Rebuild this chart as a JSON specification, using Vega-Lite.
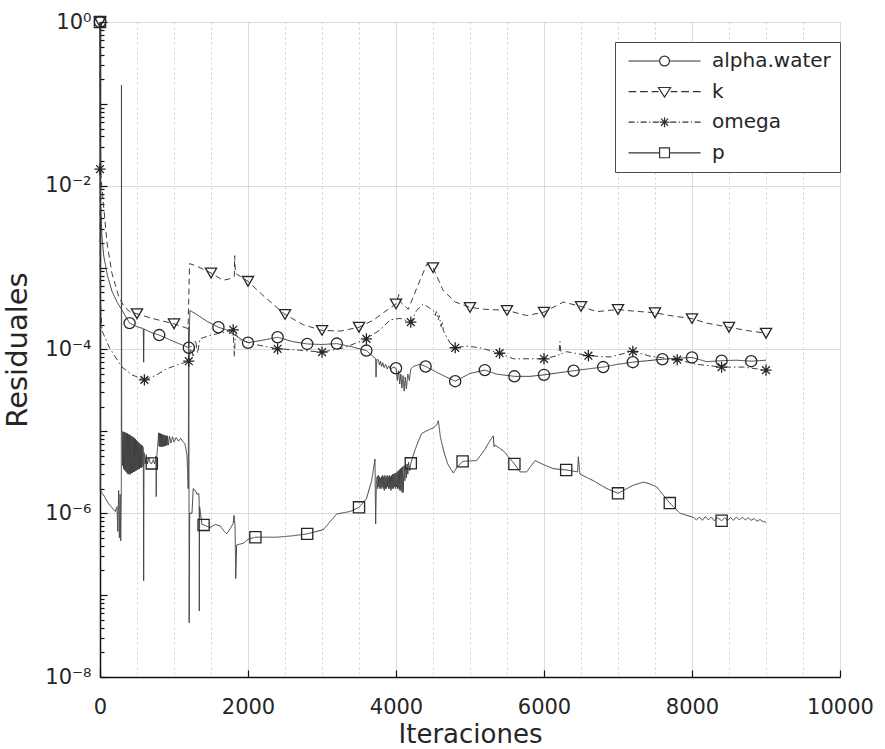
{
  "$schema": "https://vega.github.io/schema/vega-lite/v6.json",
  "width": 740,
  "height": 655,
  "autosize": {"type": "none"},
  "padding": {"left": 100, "top": 22, "right": 45, "bottom": 72},
  "background": "white",
  "config": {"view": {"stroke": null}, "font": "DejaVu Sans"},
  "datasets": {
    "lines": [
      {"series": "alpha.water", "it": 0, "value": 1},
      {"series": "alpha.water", "it": 2, "value": 0.03},
      {"series": "alpha.water", "it": 8, "value": 0.006},
      {"series": "alpha.water", "it": 25, "value": 0.0025},
      {"series": "alpha.water", "it": 50, "value": 0.0014},
      {"series": "alpha.water", "it": 100, "value": 0.0008},
      {"series": "alpha.water", "it": 160, "value": 0.00052},
      {"series": "alpha.water", "it": 230, "value": 0.00038},
      {"series": "alpha.water", "it": 290, "value": 0.00031},
      {"series": "alpha.water", "it": 400, "value": 0.00021},
      {"series": "alpha.water", "it": 500, "value": 0.00019},
      {"series": "alpha.water", "it": 585, "value": 0.00018},
      {"series": "alpha.water", "it": 590, "value": 0.00007},
      {"series": "alpha.water", "it": 595, "value": 0.000178},
      {"series": "alpha.water", "it": 700, "value": 0.00016},
      {"series": "alpha.water", "it": 800, "value": 0.00015},
      {"series": "alpha.water", "it": 1000, "value": 0.000125},
      {"series": "alpha.water", "it": 1200, "value": 0.000105},
      {"series": "alpha.water", "it": 1215, "value": 0.0003},
      {"series": "alpha.water", "it": 1300, "value": 0.00027},
      {"series": "alpha.water", "it": 1450, "value": 0.00022},
      {"series": "alpha.water", "it": 1600, "value": 0.000187},
      {"series": "alpha.water", "it": 1700, "value": 0.000175},
      {"series": "alpha.water", "it": 1800, "value": 0.000155},
      {"series": "alpha.water", "it": 1900, "value": 0.000135},
      {"series": "alpha.water", "it": 2000, "value": 0.000121},
      {"series": "alpha.water", "it": 2200, "value": 0.00013},
      {"series": "alpha.water", "it": 2400, "value": 0.000141},
      {"series": "alpha.water", "it": 2600, "value": 0.000125},
      {"series": "alpha.water", "it": 2800, "value": 0.000117},
      {"series": "alpha.water", "it": 3000, "value": 0.000115},
      {"series": "alpha.water", "it": 3200, "value": 0.000118},
      {"series": "alpha.water", "it": 3400, "value": 0.000108},
      {"series": "alpha.water", "it": 3600, "value": 0.000097},
      {"series": "alpha.water", "it": 3725, "value": 0.000077},
      {"series": "alpha.water", "it": 3730, "value": 0.000046},
      {"series": "alpha.water", "it": 3740, "value": 0.000075},
      {"series": "alpha.water", "it": 3760, "value": 0.000075},
      {"series": "alpha.water", "it": 3775, "value": 0.000065},
      {"series": "alpha.water", "it": 3790, "value": 0.000072},
      {"series": "alpha.water", "it": 3805, "value": 0.000062},
      {"series": "alpha.water", "it": 3820, "value": 0.000069},
      {"series": "alpha.water", "it": 3840, "value": 0.00006},
      {"series": "alpha.water", "it": 3860, "value": 0.000066},
      {"series": "alpha.water", "it": 3880, "value": 0.000058},
      {"series": "alpha.water", "it": 3900, "value": 0.000063},
      {"series": "alpha.water", "it": 3930, "value": 0.000057},
      {"series": "alpha.water", "it": 3960, "value": 0.000061},
      {"series": "alpha.water", "it": 4000, "value": 0.000059},
      {"series": "alpha.water", "it": 4020, "value": 0.000042},
      {"series": "alpha.water", "it": 4035, "value": 0.000055},
      {"series": "alpha.water", "it": 4050, "value": 0.000038},
      {"series": "alpha.water", "it": 4065, "value": 0.00005},
      {"series": "alpha.water", "it": 4080, "value": 0.000034},
      {"series": "alpha.water", "it": 4095, "value": 0.000048},
      {"series": "alpha.water", "it": 4110, "value": 0.000031},
      {"series": "alpha.water", "it": 4125, "value": 0.000046},
      {"series": "alpha.water", "it": 4140, "value": 0.000033},
      {"series": "alpha.water", "it": 4160, "value": 0.00005},
      {"series": "alpha.water", "it": 4180, "value": 0.000042},
      {"series": "alpha.water", "it": 4200, "value": 0.000058},
      {"series": "alpha.water", "it": 4234, "value": 0.000062},
      {"series": "alpha.water", "it": 4324, "value": 0.000066},
      {"series": "alpha.water", "it": 4400, "value": 0.000062},
      {"series": "alpha.water", "it": 4600, "value": 0.00005},
      {"series": "alpha.water", "it": 4800, "value": 0.000041},
      {"series": "alpha.water", "it": 5000, "value": 0.000051},
      {"series": "alpha.water", "it": 5200, "value": 0.000056},
      {"series": "alpha.water", "it": 5360, "value": 0.00005},
      {"series": "alpha.water", "it": 5600, "value": 0.000047},
      {"series": "alpha.water", "it": 5811, "value": 0.000047},
      {"series": "alpha.water", "it": 6000, "value": 0.000049},
      {"series": "alpha.water", "it": 6200, "value": 0.000052},
      {"series": "alpha.water", "it": 6400, "value": 0.000055},
      {"series": "alpha.water", "it": 6600, "value": 0.000058},
      {"series": "alpha.water", "it": 6800, "value": 0.000061},
      {"series": "alpha.water", "it": 7000, "value": 0.000066},
      {"series": "alpha.water", "it": 7200, "value": 0.00007},
      {"series": "alpha.water", "it": 7400, "value": 0.000073},
      {"series": "alpha.water", "it": 7600, "value": 0.000076},
      {"series": "alpha.water", "it": 7800, "value": 0.000078},
      {"series": "alpha.water", "it": 8000, "value": 0.00008},
      {"series": "alpha.water", "it": 8198, "value": 0.000071},
      {"series": "alpha.water", "it": 8400, "value": 0.000073},
      {"series": "alpha.water", "it": 8600, "value": 0.000074},
      {"series": "alpha.water", "it": 8800, "value": 0.000072},
      {"series": "alpha.water", "it": 9000, "value": 0.000074},

      {"series": "k", "it": 0, "value": 1},
      {"series": "k", "it": 3, "value": 0.05},
      {"series": "k", "it": 15, "value": 0.012},
      {"series": "k", "it": 50, "value": 0.0055},
      {"series": "k", "it": 95, "value": 0.002},
      {"series": "k", "it": 162, "value": 0.00085},
      {"series": "k", "it": 250, "value": 0.00045},
      {"series": "k", "it": 320, "value": 0.00034},
      {"series": "k", "it": 400, "value": 0.00029},
      {"series": "k", "it": 500, "value": 0.000273},
      {"series": "k", "it": 700, "value": 0.00024},
      {"series": "k", "it": 1000, "value": 0.000206},
      {"series": "k", "it": 1190, "value": 0.00018},
      {"series": "k", "it": 1210, "value": 0.00112},
      {"series": "k", "it": 1300, "value": 0.00105},
      {"series": "k", "it": 1500, "value": 0.00086},
      {"series": "k", "it": 1662, "value": 0.0007},
      {"series": "k", "it": 1750, "value": 0.00073},
      {"series": "k", "it": 1815, "value": 0.00078},
      {"series": "k", "it": 1820, "value": 0.0014},
      {"series": "k", "it": 1830, "value": 0.00085},
      {"series": "k", "it": 1900, "value": 0.00078},
      {"series": "k", "it": 2000, "value": 0.00068},
      {"series": "k", "it": 2200, "value": 0.00046},
      {"series": "k", "it": 2500, "value": 0.000268},
      {"series": "k", "it": 2750, "value": 0.0002},
      {"series": "k", "it": 3000, "value": 0.000171},
      {"series": "k", "it": 3250, "value": 0.000168},
      {"series": "k", "it": 3500, "value": 0.000187},
      {"series": "k", "it": 3700, "value": 0.00023},
      {"series": "k", "it": 3850, "value": 0.00029},
      {"series": "k", "it": 4000, "value": 0.00036},
      {"series": "k", "it": 4040, "value": 0.00047},
      {"series": "k", "it": 4060, "value": 0.00038},
      {"series": "k", "it": 4166, "value": 0.00031},
      {"series": "k", "it": 4300, "value": 0.00062},
      {"series": "k", "it": 4415, "value": 0.0011},
      {"series": "k", "it": 4500, "value": 0.001},
      {"series": "k", "it": 4635, "value": 0.00053},
      {"series": "k", "it": 4800, "value": 0.00038},
      {"series": "k", "it": 5000, "value": 0.000327},
      {"series": "k", "it": 5200, "value": 0.00031},
      {"series": "k", "it": 5500, "value": 0.0003},
      {"series": "k", "it": 5766, "value": 0.00026},
      {"series": "k", "it": 6000, "value": 0.000286},
      {"series": "k", "it": 6261, "value": 0.00038},
      {"series": "k", "it": 6500, "value": 0.000336},
      {"series": "k", "it": 6711, "value": 0.00029},
      {"series": "k", "it": 7000, "value": 0.000308},
      {"series": "k", "it": 7200, "value": 0.000295},
      {"series": "k", "it": 7500, "value": 0.000281},
      {"series": "k", "it": 7700, "value": 0.00026},
      {"series": "k", "it": 8000, "value": 0.000238},
      {"series": "k", "it": 8200, "value": 0.00021},
      {"series": "k", "it": 8500, "value": 0.000187},
      {"series": "k", "it": 8750, "value": 0.00017},
      {"series": "k", "it": 9000, "value": 0.000158},

      {"series": "omega", "it": 0, "value": 0.016},
      {"series": "omega", "it": 2, "value": 0.002},
      {"series": "omega", "it": 6, "value": 0.0004},
      {"series": "omega", "it": 27, "value": 0.00017},
      {"series": "omega", "it": 117, "value": 0.00011},
      {"series": "omega", "it": 207, "value": 0.000081},
      {"series": "omega", "it": 297, "value": 0.000061},
      {"series": "omega", "it": 432, "value": 0.000049},
      {"series": "omega", "it": 600, "value": 0.0000426},
      {"series": "omega", "it": 750, "value": 0.000048},
      {"series": "omega", "it": 900, "value": 0.000058},
      {"series": "omega", "it": 1050, "value": 0.000065},
      {"series": "omega", "it": 1200, "value": 0.000072},
      {"series": "omega", "it": 1230, "value": 0.00011},
      {"series": "omega", "it": 1260, "value": 0.00008},
      {"series": "omega", "it": 1290, "value": 0.00013},
      {"series": "omega", "it": 1320, "value": 0.00009},
      {"series": "omega", "it": 1350, "value": 0.000135},
      {"series": "omega", "it": 1500, "value": 0.00015},
      {"series": "omega", "it": 1650, "value": 0.00016},
      {"series": "omega", "it": 1800, "value": 0.000174},
      {"series": "omega", "it": 1815, "value": 0.000082},
      {"series": "omega", "it": 1830, "value": 0.000155},
      {"series": "omega", "it": 1900, "value": 0.00013},
      {"series": "omega", "it": 2100, "value": 0.000115},
      {"series": "omega", "it": 2400, "value": 0.000102},
      {"series": "omega", "it": 2700, "value": 0.000098},
      {"series": "omega", "it": 3000, "value": 0.000093},
      {"series": "omega", "it": 3300, "value": 0.000105},
      {"series": "omega", "it": 3600, "value": 0.000135},
      {"series": "omega", "it": 3784, "value": 0.000173},
      {"series": "omega", "it": 3919, "value": 0.00023},
      {"series": "omega", "it": 4054, "value": 0.00024},
      {"series": "omega", "it": 4200, "value": 0.000216},
      {"series": "omega", "it": 4279, "value": 0.0003},
      {"series": "omega", "it": 4369, "value": 0.00036},
      {"series": "omega", "it": 4504, "value": 0.0003},
      {"series": "omega", "it": 4530, "value": 0.00026},
      {"series": "omega", "it": 4545, "value": 0.00029},
      {"series": "omega", "it": 4570, "value": 0.00023},
      {"series": "omega", "it": 4585, "value": 0.00026},
      {"series": "omega", "it": 4610, "value": 0.00019},
      {"series": "omega", "it": 4625, "value": 0.00022},
      {"series": "omega", "it": 4640, "value": 0.00017},
      {"series": "omega", "it": 4730, "value": 0.00012},
      {"series": "omega", "it": 4800, "value": 0.000105},
      {"series": "omega", "it": 4955, "value": 0.00011},
      {"series": "omega", "it": 5135, "value": 0.000105},
      {"series": "omega", "it": 5400, "value": 0.00009},
      {"series": "omega", "it": 5585, "value": 0.000077},
      {"series": "omega", "it": 6000, "value": 0.000077},
      {"series": "omega", "it": 6200, "value": 0.000085},
      {"series": "omega", "it": 6216, "value": 0.000125},
      {"series": "omega", "it": 6230, "value": 0.000088},
      {"series": "omega", "it": 6306, "value": 0.000094},
      {"series": "omega", "it": 6600, "value": 0.000084},
      {"series": "omega", "it": 6892, "value": 0.000081},
      {"series": "omega", "it": 7200, "value": 0.000095},
      {"series": "omega", "it": 7432, "value": 0.000083},
      {"series": "omega", "it": 7800, "value": 0.000075},
      {"series": "omega", "it": 8063, "value": 0.000066},
      {"series": "omega", "it": 8400, "value": 0.000061},
      {"series": "omega", "it": 8694, "value": 0.000061},
      {"series": "omega", "it": 9000, "value": 0.000056},

      {"series": "p", "it": 0, "value": 1},
      {"series": "p", "it": 4, "value": 0.0000019},
      {"series": "p", "it": 60, "value": 0.0000016},
      {"series": "p", "it": 117, "value": 0.0000013},
      {"series": "p", "it": 207, "value": 0.00000105},
      {"series": "p", "it": 230, "value": 0.0000012},
      {"series": "p", "it": 240, "value": 0.0000006},
      {"series": "p", "it": 252, "value": 0.0000019},
      {"series": "p", "it": 262, "value": 0.0000005},
      {"series": "p", "it": 272, "value": 0.0000017},
      {"series": "p", "it": 280, "value": 0.00000046},
      {"series": "p", "it": 288, "value": 0.0000015},
      {"series": "p", "it": 290, "value": 0.17},
      {"series": "p", "it": 293, "value": 0.00001},
      {"series": "p", "it": 300, "value": 0.00001},
      {"series": "p", "it": 306, "value": 0.0000038},
      {"series": "p", "it": 312, "value": 0.0000099},
      {"series": "p", "it": 318, "value": 0.0000035},
      {"series": "p", "it": 324, "value": 0.0000098},
      {"series": "p", "it": 330, "value": 0.0000034},
      {"series": "p", "it": 336, "value": 0.0000097},
      {"series": "p", "it": 342, "value": 0.0000033},
      {"series": "p", "it": 348, "value": 0.0000096},
      {"series": "p", "it": 354, "value": 0.0000032},
      {"series": "p", "it": 360, "value": 0.0000095},
      {"series": "p", "it": 366, "value": 0.0000031},
      {"series": "p", "it": 372, "value": 0.0000094},
      {"series": "p", "it": 378, "value": 0.000003},
      {"series": "p", "it": 384, "value": 0.0000092},
      {"series": "p", "it": 390, "value": 0.000003},
      {"series": "p", "it": 396, "value": 0.0000091},
      {"series": "p", "it": 402, "value": 0.000003},
      {"series": "p", "it": 408, "value": 0.000009},
      {"series": "p", "it": 414, "value": 0.000003},
      {"series": "p", "it": 420, "value": 0.0000088},
      {"series": "p", "it": 426, "value": 0.0000031},
      {"series": "p", "it": 432, "value": 0.0000087},
      {"series": "p", "it": 438, "value": 0.0000031},
      {"series": "p", "it": 444, "value": 0.0000085},
      {"series": "p", "it": 450, "value": 0.0000032},
      {"series": "p", "it": 456, "value": 0.0000084},
      {"series": "p", "it": 462, "value": 0.0000032},
      {"series": "p", "it": 468, "value": 0.0000082},
      {"series": "p", "it": 474, "value": 0.0000033},
      {"series": "p", "it": 480, "value": 0.000008},
      {"series": "p", "it": 486, "value": 0.0000033},
      {"series": "p", "it": 492, "value": 0.0000078},
      {"series": "p", "it": 498, "value": 0.0000034},
      {"series": "p", "it": 504, "value": 0.0000076},
      {"series": "p", "it": 510, "value": 0.0000034},
      {"series": "p", "it": 516, "value": 0.0000074},
      {"series": "p", "it": 522, "value": 0.0000035},
      {"series": "p", "it": 528, "value": 0.0000072},
      {"series": "p", "it": 534, "value": 0.0000035},
      {"series": "p", "it": 540, "value": 0.000007},
      {"series": "p", "it": 546, "value": 0.0000036},
      {"series": "p", "it": 552, "value": 0.0000069},
      {"series": "p", "it": 558, "value": 0.0000036},
      {"series": "p", "it": 564, "value": 0.0000068},
      {"series": "p", "it": 570, "value": 0.0000037},
      {"series": "p", "it": 576, "value": 0.0000066},
      {"series": "p", "it": 585, "value": 0.0000062},
      {"series": "p", "it": 590, "value": 0.00000015},
      {"series": "p", "it": 595, "value": 0.0000055},
      {"series": "p", "it": 610, "value": 0.000004},
      {"series": "p", "it": 625, "value": 0.0000052},
      {"series": "p", "it": 640, "value": 0.000004},
      {"series": "p", "it": 660, "value": 0.0000048},
      {"series": "p", "it": 680, "value": 0.0000041},
      {"series": "p", "it": 700, "value": 0.00000406},
      {"series": "p", "it": 720, "value": 0.0000045},
      {"series": "p", "it": 740, "value": 0.000004},
      {"series": "p", "it": 755, "value": 0.000005},
      {"series": "p", "it": 760, "value": 0.0000016},
      {"series": "p", "it": 765, "value": 0.0000046},
      {"series": "p", "it": 793, "value": 0.0000096},
      {"series": "p", "it": 799, "value": 0.0000066},
      {"series": "p", "it": 805, "value": 0.0000095},
      {"series": "p", "it": 811, "value": 0.0000065},
      {"series": "p", "it": 817, "value": 0.0000094},
      {"series": "p", "it": 823, "value": 0.0000065},
      {"series": "p", "it": 829, "value": 0.0000093},
      {"series": "p", "it": 835, "value": 0.0000065},
      {"series": "p", "it": 841, "value": 0.0000092},
      {"series": "p", "it": 847, "value": 0.0000065},
      {"series": "p", "it": 853, "value": 0.0000091},
      {"series": "p", "it": 859, "value": 0.0000066},
      {"series": "p", "it": 865, "value": 0.000009},
      {"series": "p", "it": 871, "value": 0.0000066},
      {"series": "p", "it": 877, "value": 0.0000089},
      {"series": "p", "it": 883, "value": 0.0000067},
      {"series": "p", "it": 889, "value": 0.0000089},
      {"series": "p", "it": 895, "value": 0.0000067},
      {"series": "p", "it": 901, "value": 0.0000088},
      {"series": "p", "it": 907, "value": 0.0000068},
      {"series": "p", "it": 913, "value": 0.0000088},
      {"series": "p", "it": 925, "value": 0.0000068},
      {"series": "p", "it": 940, "value": 0.0000087},
      {"series": "p", "it": 960, "value": 0.0000072},
      {"series": "p", "it": 980, "value": 0.0000086},
      {"series": "p", "it": 1000, "value": 0.0000074},
      {"series": "p", "it": 1030, "value": 0.0000084},
      {"series": "p", "it": 1060, "value": 0.0000076},
      {"series": "p", "it": 1090, "value": 0.0000082},
      {"series": "p", "it": 1120, "value": 0.0000075},
      {"series": "p", "it": 1150, "value": 0.000007},
      {"series": "p", "it": 1176, "value": 0.000005},
      {"series": "p", "it": 1192, "value": 0.000002},
      {"series": "p", "it": 1200, "value": 0.00019},
      {"series": "p", "it": 1205, "value": 0.000000046},
      {"series": "p", "it": 1212, "value": 0.000001},
      {"series": "p", "it": 1243, "value": 0.000001},
      {"series": "p", "it": 1260, "value": 0.000002},
      {"series": "p", "it": 1288, "value": 0.0000019},
      {"series": "p", "it": 1310, "value": 0.0000017},
      {"series": "p", "it": 1333, "value": 0.00000175},
      {"series": "p", "it": 1340, "value": 0.0000015},
      {"series": "p", "it": 1342, "value": 0.000000064},
      {"series": "p", "it": 1346, "value": 0.0000012},
      {"series": "p", "it": 1378, "value": 0.00000073},
      {"series": "p", "it": 1400, "value": 0.00000072},
      {"series": "p", "it": 1486, "value": 0.00000067},
      {"series": "p", "it": 1560, "value": 0.00000073},
      {"series": "p", "it": 1622, "value": 0.0000007},
      {"series": "p", "it": 1680, "value": 0.0000006},
      {"series": "p", "it": 1712, "value": 0.00000056},
      {"series": "p", "it": 1760, "value": 0.00000065},
      {"series": "p", "it": 1800, "value": 0.00000075},
      {"series": "p", "it": 1811, "value": 0.00000094},
      {"series": "p", "it": 1825, "value": 0.0000007},
      {"series": "p", "it": 1834, "value": 0.00000016},
      {"series": "p", "it": 1847, "value": 0.00000041},
      {"series": "p", "it": 1937, "value": 0.00000043},
      {"series": "p", "it": 2000, "value": 0.00000048},
      {"series": "p", "it": 2100, "value": 0.00000051},
      {"series": "p", "it": 2390, "value": 0.00000051},
      {"series": "p", "it": 2600, "value": 0.00000053},
      {"series": "p", "it": 2800, "value": 0.00000056},
      {"series": "p", "it": 3018, "value": 0.00000063},
      {"series": "p", "it": 3198, "value": 0.00000098},
      {"series": "p", "it": 3378, "value": 0.00000105},
      {"series": "p", "it": 3500, "value": 0.00000118},
      {"series": "p", "it": 3600, "value": 0.0000015},
      {"series": "p", "it": 3671, "value": 0.0000025},
      {"series": "p", "it": 3716, "value": 0.0000046},
      {"series": "p", "it": 3725, "value": 0.00000074},
      {"series": "p", "it": 3735, "value": 0.0000023},
      {"series": "p", "it": 3745, "value": 0.0000028},
      {"series": "p", "it": 3752, "value": 0.000002},
      {"series": "p", "it": 3760, "value": 0.0000029},
      {"series": "p", "it": 3767, "value": 0.0000021},
      {"series": "p", "it": 3775, "value": 0.0000028},
      {"series": "p", "it": 3782, "value": 0.000002},
      {"series": "p", "it": 3790, "value": 0.0000027},
      {"series": "p", "it": 3797, "value": 0.000002},
      {"series": "p", "it": 3805, "value": 0.0000028},
      {"series": "p", "it": 3812, "value": 0.0000021},
      {"series": "p", "it": 3820, "value": 0.0000029},
      {"series": "p", "it": 3827, "value": 0.000002},
      {"series": "p", "it": 3835, "value": 0.0000028},
      {"series": "p", "it": 3842, "value": 0.0000019},
      {"series": "p", "it": 3850, "value": 0.0000029},
      {"series": "p", "it": 3857, "value": 0.000002},
      {"series": "p", "it": 3865, "value": 0.0000028},
      {"series": "p", "it": 3872, "value": 0.000002},
      {"series": "p", "it": 3880, "value": 0.0000029},
      {"series": "p", "it": 3887, "value": 0.0000021},
      {"series": "p", "it": 3895, "value": 0.0000028},
      {"series": "p", "it": 3902, "value": 0.000002},
      {"series": "p", "it": 3910, "value": 0.0000029},
      {"series": "p", "it": 3917, "value": 0.000002},
      {"series": "p", "it": 3925, "value": 0.0000028},
      {"series": "p", "it": 3932, "value": 0.0000019},
      {"series": "p", "it": 3940, "value": 0.0000029},
      {"series": "p", "it": 3947, "value": 0.000002},
      {"series": "p", "it": 3955, "value": 0.000003},
      {"series": "p", "it": 3962, "value": 0.000002},
      {"series": "p", "it": 3970, "value": 0.000003},
      {"series": "p", "it": 3977, "value": 0.0000021},
      {"series": "p", "it": 3985, "value": 0.0000031},
      {"series": "p", "it": 3992, "value": 0.000002},
      {"series": "p", "it": 4000, "value": 0.0000031},
      {"series": "p", "it": 4007, "value": 0.0000021},
      {"series": "p", "it": 4015, "value": 0.0000032},
      {"series": "p", "it": 4022, "value": 0.000002},
      {"series": "p", "it": 4030, "value": 0.0000033},
      {"series": "p", "it": 4037, "value": 0.000002},
      {"series": "p", "it": 4045, "value": 0.0000034},
      {"series": "p", "it": 4052, "value": 0.0000019},
      {"series": "p", "it": 4060, "value": 0.0000035},
      {"series": "p", "it": 4067, "value": 0.0000019},
      {"series": "p", "it": 4075, "value": 0.0000036},
      {"series": "p", "it": 4082, "value": 0.0000018},
      {"series": "p", "it": 4090, "value": 0.0000037},
      {"series": "p", "it": 4097, "value": 0.0000018},
      {"series": "p", "it": 4110, "value": 0.0000038},
      {"series": "p", "it": 4120, "value": 0.0000025},
      {"series": "p", "it": 4130, "value": 0.0000039},
      {"series": "p", "it": 4140, "value": 0.0000027},
      {"series": "p", "it": 4150, "value": 0.000004},
      {"series": "p", "it": 4160, "value": 0.000003},
      {"series": "p", "it": 4170, "value": 0.0000042},
      {"series": "p", "it": 4185, "value": 0.0000033},
      {"series": "p", "it": 4200, "value": 0.00000407},
      {"series": "p", "it": 4230, "value": 0.000005},
      {"series": "p", "it": 4257, "value": 0.0000059},
      {"series": "p", "it": 4300, "value": 0.0000075},
      {"series": "p", "it": 4347, "value": 0.0000094},
      {"series": "p", "it": 4400, "value": 0.00001},
      {"series": "p", "it": 4450, "value": 0.0000105},
      {"series": "p", "it": 4500, "value": 0.000011},
      {"series": "p", "it": 4550, "value": 0.000012},
      {"series": "p", "it": 4572, "value": 0.0000135},
      {"series": "p", "it": 4600, "value": 0.0000085},
      {"series": "p", "it": 4650, "value": 0.0000055},
      {"series": "p", "it": 4700, "value": 0.000004},
      {"series": "p", "it": 4730, "value": 0.0000036},
      {"series": "p", "it": 4775, "value": 0.0000031},
      {"series": "p", "it": 4820, "value": 0.0000036},
      {"series": "p", "it": 4900, "value": 0.0000043},
      {"series": "p", "it": 5090, "value": 0.0000044},
      {"series": "p", "it": 5200, "value": 0.000006},
      {"series": "p", "it": 5270, "value": 0.0000077},
      {"series": "p", "it": 5315, "value": 0.0000088},
      {"series": "p", "it": 5325, "value": 0.0000065},
      {"series": "p", "it": 5338, "value": 0.0000068},
      {"series": "p", "it": 5450, "value": 0.0000058},
      {"series": "p", "it": 5600, "value": 0.000004},
      {"series": "p", "it": 5676, "value": 0.0000032},
      {"series": "p", "it": 5766, "value": 0.0000032},
      {"series": "p", "it": 5878, "value": 0.0000044},
      {"series": "p", "it": 6000, "value": 0.0000039},
      {"series": "p", "it": 6126, "value": 0.0000035},
      {"series": "p", "it": 6300, "value": 0.00000338},
      {"series": "p", "it": 6455, "value": 0.0000032},
      {"series": "p", "it": 6464, "value": 0.0000049},
      {"series": "p", "it": 6486, "value": 0.000003},
      {"series": "p", "it": 6666, "value": 0.0000025},
      {"series": "p", "it": 6850, "value": 0.000002},
      {"series": "p", "it": 7000, "value": 0.00000175},
      {"series": "p", "it": 7207, "value": 0.0000022},
      {"series": "p", "it": 7342, "value": 0.0000024},
      {"series": "p", "it": 7420, "value": 0.0000023},
      {"series": "p", "it": 7523, "value": 0.0000021},
      {"series": "p", "it": 7700, "value": 0.00000133},
      {"series": "p", "it": 7838, "value": 0.000001},
      {"series": "p", "it": 8018, "value": 0.00000089},
      {"series": "p", "it": 8060, "value": 0.00000083},
      {"series": "p", "it": 8100, "value": 0.0000009},
      {"series": "p", "it": 8140, "value": 0.00000082},
      {"series": "p", "it": 8180, "value": 0.00000091},
      {"series": "p", "it": 8220, "value": 0.00000083},
      {"series": "p", "it": 8260, "value": 0.0000009},
      {"series": "p", "it": 8300, "value": 0.00000081},
      {"series": "p", "it": 8340, "value": 0.00000089},
      {"series": "p", "it": 8400, "value": 0.00000081},
      {"series": "p", "it": 8440, "value": 0.00000088},
      {"series": "p", "it": 8480, "value": 0.00000081},
      {"series": "p", "it": 8520, "value": 0.00000089},
      {"series": "p", "it": 8560, "value": 0.00000082},
      {"series": "p", "it": 8600, "value": 0.0000009},
      {"series": "p", "it": 8640, "value": 0.00000083},
      {"series": "p", "it": 8680, "value": 0.00000089},
      {"series": "p", "it": 8720, "value": 0.00000083},
      {"series": "p", "it": 8760, "value": 0.00000088},
      {"series": "p", "it": 8800, "value": 0.00000082},
      {"series": "p", "it": 8840, "value": 0.00000086},
      {"series": "p", "it": 8880, "value": 0.0000008},
      {"series": "p", "it": 8920, "value": 0.00000084},
      {"series": "p", "it": 8960, "value": 0.00000079},
      {"series": "p", "it": 9000, "value": 0.00000078}
    ],
    "markers": [
      {"series": "alpha.water", "it": 0, "value": 1},
      {"series": "alpha.water", "it": 400, "value": 0.00021},
      {"series": "alpha.water", "it": 800, "value": 0.00015},
      {"series": "alpha.water", "it": 1200, "value": 0.000105},
      {"series": "alpha.water", "it": 1600, "value": 0.000187},
      {"series": "alpha.water", "it": 2000, "value": 0.000121},
      {"series": "alpha.water", "it": 2400, "value": 0.000141},
      {"series": "alpha.water", "it": 2800, "value": 0.000117},
      {"series": "alpha.water", "it": 3200, "value": 0.000118},
      {"series": "alpha.water", "it": 3600, "value": 0.000097},
      {"series": "alpha.water", "it": 4000, "value": 0.000059},
      {"series": "alpha.water", "it": 4400, "value": 0.000062},
      {"series": "alpha.water", "it": 4800, "value": 0.000041},
      {"series": "alpha.water", "it": 5200, "value": 0.000056},
      {"series": "alpha.water", "it": 5600, "value": 0.000047},
      {"series": "alpha.water", "it": 6000, "value": 0.000049},
      {"series": "alpha.water", "it": 6400, "value": 0.000055},
      {"series": "alpha.water", "it": 6800, "value": 0.000061},
      {"series": "alpha.water", "it": 7200, "value": 0.00007},
      {"series": "alpha.water", "it": 7600, "value": 0.000076},
      {"series": "alpha.water", "it": 8000, "value": 0.00008},
      {"series": "alpha.water", "it": 8400, "value": 0.000073},
      {"series": "alpha.water", "it": 8800, "value": 0.000072},
      {"series": "k", "it": 0, "value": 1},
      {"series": "k", "it": 500, "value": 0.000273},
      {"series": "k", "it": 1000, "value": 0.000206},
      {"series": "k", "it": 1500, "value": 0.00086},
      {"series": "k", "it": 2000, "value": 0.00068},
      {"series": "k", "it": 2500, "value": 0.000268},
      {"series": "k", "it": 3000, "value": 0.000171},
      {"series": "k", "it": 3500, "value": 0.000187},
      {"series": "k", "it": 4000, "value": 0.00036},
      {"series": "k", "it": 4500, "value": 0.001},
      {"series": "k", "it": 5000, "value": 0.000327},
      {"series": "k", "it": 5500, "value": 0.0003},
      {"series": "k", "it": 6000, "value": 0.000286},
      {"series": "k", "it": 6500, "value": 0.000336},
      {"series": "k", "it": 7000, "value": 0.000308},
      {"series": "k", "it": 7500, "value": 0.000281},
      {"series": "k", "it": 8000, "value": 0.000238},
      {"series": "k", "it": 8500, "value": 0.000187},
      {"series": "k", "it": 9000, "value": 0.000158},
      {"series": "omega", "it": 0, "value": 0.016},
      {"series": "omega", "it": 600, "value": 0.0000426},
      {"series": "omega", "it": 1200, "value": 0.000072},
      {"series": "omega", "it": 1800, "value": 0.000174},
      {"series": "omega", "it": 2400, "value": 0.000102},
      {"series": "omega", "it": 3000, "value": 0.000093},
      {"series": "omega", "it": 3600, "value": 0.000135},
      {"series": "omega", "it": 4200, "value": 0.000216},
      {"series": "omega", "it": 4800, "value": 0.000105},
      {"series": "omega", "it": 5400, "value": 0.00009},
      {"series": "omega", "it": 6000, "value": 0.000077},
      {"series": "omega", "it": 6600, "value": 0.000084},
      {"series": "omega", "it": 7200, "value": 0.000095},
      {"series": "omega", "it": 7800, "value": 0.000075},
      {"series": "omega", "it": 8400, "value": 0.000061},
      {"series": "omega", "it": 9000, "value": 0.000056},
      {"series": "p", "it": 0, "value": 1},
      {"series": "p", "it": 700, "value": 0.00000406},
      {"series": "p", "it": 1400, "value": 0.00000072},
      {"series": "p", "it": 2100, "value": 0.00000051},
      {"series": "p", "it": 2800, "value": 0.00000056},
      {"series": "p", "it": 3500, "value": 0.00000118},
      {"series": "p", "it": 4200, "value": 0.00000407},
      {"series": "p", "it": 4900, "value": 0.0000043},
      {"series": "p", "it": 5600, "value": 0.000004},
      {"series": "p", "it": 6300, "value": 0.00000338},
      {"series": "p", "it": 7000, "value": 0.00000175},
      {"series": "p", "it": 7700, "value": 0.00000133},
      {"series": "p", "it": 8400, "value": 0.00000081}
    ]
  },
  "encoding": {
    "x": {
      "field": "it",
      "type": "quantitative",
      "scale": {"domain": [0, 10000], "nice": false},
      "axis": {
        "title": "Iteraciones",
        "values": [0, 500, 1000, 1500, 2000, 2500, 3000, 3500, 4000, 4500, 5000, 5500, 6000, 6500, 7000, 7500, 8000, 8500, 9000, 9500, 10000],
        "labelExpr": "datum.value % 2000 == 0 ? format(datum.value, 'd') : ''",
        "labelOverlap": false,
        "labelFlush": false,
        "labelFontSize": 21,
        "labelColor": "#262626",
        "labelPadding": 26,
        "titleFontSize": 26,
        "titleFontWeight": "normal",
        "titleColor": "#262626",
        "titlePadding": -3,
        "domainColor": "#111111",
        "domainWidth": 1.5,
        "tickColor": "#111111",
        "tickWidth": 1.2,
        "tickSize": {"condition": {"test": "datum.value % 2000 == 0", "value": -7}, "value": 0},
        "grid": true,
        "gridColor": {"condition": {"test": "datum.value % 2000 == 0", "value": "#dadada"}, "value": "#cfcfcf"},
        "gridDash": {"condition": {"test": "datum.value % 2000 == 0", "value": []}, "value": [2, 3]},
        "gridWidth": 1
      }
    },
    "y": {
      "field": "value",
      "type": "quantitative",
      "scale": {"type": "log", "domain": [1e-8, 1], "nice": false},
      "axis": {
        "title": "Residuales",
        "values": [1e-8, 2e-8, 3e-8, 4e-8, 5e-8, 6e-8, 7e-8, 8e-8, 9e-8, 1e-7, 2e-7, 3e-7, 4e-7, 5e-7, 6e-7, 7e-7, 8e-7, 9e-7, 1e-6, 2e-6, 3e-6, 4e-6, 5e-6, 6e-6, 7e-6, 8e-6, 9e-6, 1e-5, 2e-5, 3e-5, 4e-5, 5e-5, 6e-5, 7e-5, 8e-5, 9e-5, 1e-4, 2e-4, 3e-4, 4e-4, 5e-4, 6e-4, 7e-4, 8e-4, 9e-4, 1e-3, 2e-3, 3e-3, 4e-3, 5e-3, 6e-3, 7e-3, 8e-3, 9e-3, 1e-2, 2e-2, 3e-2, 4e-2, 5e-2, 6e-2, 7e-2, 8e-2, 9e-2, 0.1, 0.2, 0.3, 0.4, 0.5, 0.6, 0.7, 0.8, 0.9, 1],
        "labelExpr": "datum.value == 1 ? '10⁰' : datum.value == 0.01 ? '10⁻²' : datum.value == 0.0001 ? '10⁻⁴' : datum.value == 1e-6 ? '10⁻⁶' : datum.value == 1e-8 ? '10⁻⁸' : ''",
        "labelOverlap": false,
        "labelFlush": false,
        "labelFontSize": 21,
        "labelColor": "#262626",
        "labelPadding": 16,
        "titleFontSize": 29,
        "titleFontWeight": "normal",
        "titleColor": "#262626",
        "titlePadding": 12,
        "domainColor": "#111111",
        "domainWidth": 1.5,
        "tickColor": "#111111",
        "tickWidth": 1.2,
        "tickSize": {"condition": {"test": "indexof([1, 0.1, 0.01, 0.001, 0.0001, 0.00001, 0.000001, 1e-7, 1e-8], datum.value) >= 0", "value": -7}, "value": -4},
        "grid": true,
        "gridColor": "#dadada",
        "gridOpacity": {"condition": {"test": "indexof([1, 0.01, 0.0001, 0.000001], datum.value) >= 0", "value": 1}, "value": 0}
      }
    }
  },
  "layer": [
    {
      "data": {"name": "lines"},
      "mark": {"type": "line", "strokeWidth": 1, "color": "#3d3d3d"},
      "encoding": {
        "strokeDash": {
          "field": "series",
          "type": "nominal",
          "scale": {"domain": ["alpha.water", "k", "omega", "p"], "range": [[1, 0], [6, 4], [6, 3, 1.5, 3], [1, 0]]},
          "legend": null
        }
      }
    },
    {
      "data": {"name": "markers"},
      "mark": {"type": "point", "filled": false, "size": 125, "strokeWidth": 1.3, "color": "#262626", "opacity": 1},
      "encoding": {
        "shape": {
          "field": "series",
          "type": "nominal",
          "scale": {"domain": ["alpha.water", "k", "omega", "p"], "range": ["circle", "triangle-down", "M-1,0H1M0,-1V1M-0.7,-0.7L0.7,0.7M-0.7,0.7L0.7,-0.7", "square"]},
          "legend": null
        }
      }
    },
    {
      "data": {"values": []},
      "mark": {"type": "point", "filled": false, "size": 121, "strokeWidth": 1.2, "color": "#333333", "opacity": 1},
      "encoding": {
        "shape": {
          "field": "series",
          "type": "nominal",
          "scale": {
            "domain": ["alpha.water", "k", "omega", "p"],
            "range": [
              "M-1,0H4.65M6.45,0H12.1M6.45,0A0.9,0.9,0,1,1,4.65,0A0.9,0.9,0,1,1,6.45,0",
              "M-1,0H0.4M1.1,0H2.5M3.2,0H4.45M6.65,0H7.9M8.6,0H10M10.7,0H12.1M4.45,-0.75H6.65L5.55,1Z",
              "M-1,0H0.1M0.55,0H0.75M1.2,0H2.3M2.75,0H2.95M3.4,0H4.5M6.6,0H7.7M8.15,0H8.35M8.8,0H9.9M10.35,0H10.55M11,0H12.1M4.65,0H6.45M5.55,-0.9V0.9M4.91,-0.64L6.19,0.64M4.91,0.64L6.19,-0.64",
              "M-1,0H4.65M6.45,0H12.1M4.65,-0.9H6.45V0.9H4.65Z"
            ]
          },
          "legend": {
            "title": null,
            "orient": "none",
            "legendX": 515,
            "legendY": 20,
            "fillColor": "white",
            "strokeColor": "#4a4a4a",
            "padding": 9,
            "labelFontSize": 20,
            "labelColor": "#262626",
            "labelOffset": 68,
            "symbolSize": 121,
            "gridAlign": "all",
            "rowPadding": 10.6,
            "symbolStrokeWidth": 1.2,
            "symbolStrokeColor": "#333333",
            "symbolFillColor": "transparent",
            "encode": {"legend": {"update": {"strokeWidth": {"value": 1.5}}}}
          }
        }
      }
    }
  ],
  "resolve": {"scale": {"shape": "independent"}, "legend": {"shape": "independent"}}
}
